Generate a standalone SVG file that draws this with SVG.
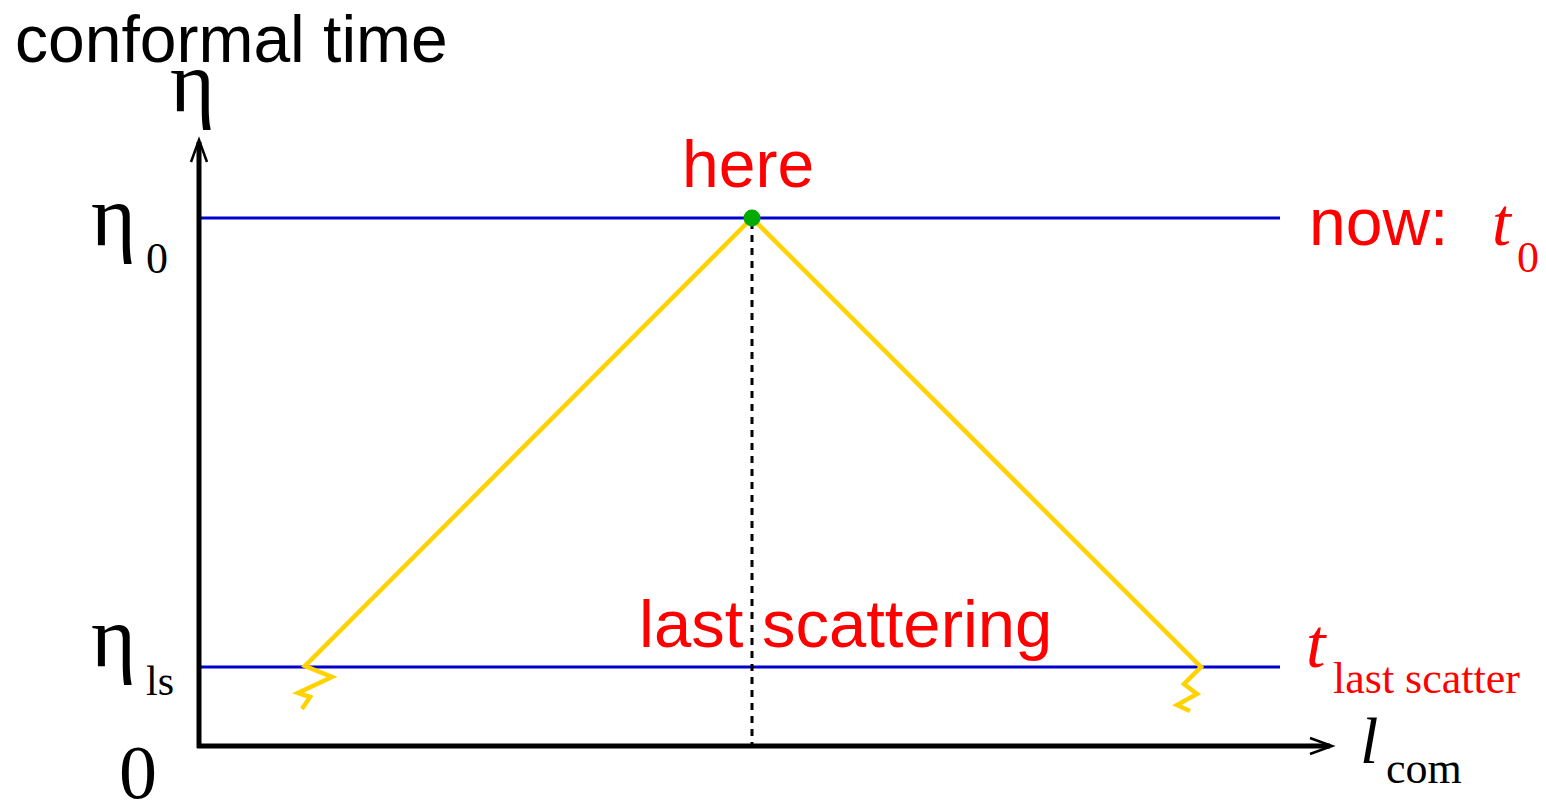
<svg xmlns="http://www.w3.org/2000/svg" width="1546" height="804" viewBox="0 0 1546 804">
<style>
.sans{font-family:"Liberation Sans",Arial,sans-serif;}
.serif{font-family:"Liberation Serif","Times New Roman",serif;}
.red{fill:#FF0000;}
.blk{fill:#000;}
.axis{stroke:#000;stroke-width:5;fill:none;}
.head{stroke:#000;stroke-width:2.5;fill:none;}
.blue{stroke:#0000CC;stroke-width:3;fill:none;}
.ray{stroke:#FFD200;stroke-width:4.5;fill:none;}
.dash{stroke:#000;stroke-width:3;stroke-dasharray:7 6;fill:none;}
</style>
<rect width="1546" height="804" fill="#fff"/>
<g id="connectors">
  <line class="blue" x1="200" y1="218" x2="1280" y2="218"/>
  <line class="blue" x1="200" y1="667" x2="1280" y2="667"/>
  <line class="dash" x1="752" y1="222" x2="752" y2="744"/>
  <polyline class="ray" points="302,709 310,697 298,693 332,677 305,666 752,218 1201,667 1184,684 1197,694 1177,705 1190,711" stroke-linejoin="miter"/>
</g>
<g id="axes">
  <line class="axis" x1="199" y1="748" x2="199" y2="142"/>
  <line class="axis" x1="197" y1="746" x2="1330" y2="746"/>
  <polyline class="head" points="191,162 199,140 207,162"/>
  <polyline class="head" points="1310,738 1332,746 1310,754"/>
</g>
<g id="here-point">
  <circle cx="752" cy="218" r="8.5" fill="#00AA00"/>
  <text class="sans red" x="682" y="187" font-size="66">here</text>
</g>
<g id="labels">
  <text class="sans blk" x="15" y="62" font-size="66">conformal time</text>
  <text class="serif blk" x="170" y="111" font-size="86">η</text>
  <text class="serif blk" x="91" y="245" font-size="86">η</text>
  <text class="serif blk" x="146" y="273" font-size="44">0</text>
  <text class="serif blk" x="91" y="666" font-size="86">η</text>
  <text class="serif blk" x="146" y="695" font-size="42">ls</text>
  <text class="serif blk" x="119" y="798" font-size="76">0</text>
  <text class="serif blk" x="1360" y="763" font-size="66" font-style="italic">l</text>
  <text class="serif blk" x="1386" y="783" font-size="44">com</text>
  <text class="sans red" x="1309" y="245" font-size="66">now:</text>
  <text class="serif red" x="1492" y="245" font-size="68" font-style="italic">t</text>
  <text class="serif red" x="1517" y="272" font-size="44">0</text>
  <text class="sans red" x="639" y="647" font-size="67">last scattering</text>
  <text class="serif red" x="1306" y="667" font-size="70" font-style="italic">t</text>
  <text class="serif red" x="1333" y="693" font-size="44">last scatter</text>
</g>
</svg>
